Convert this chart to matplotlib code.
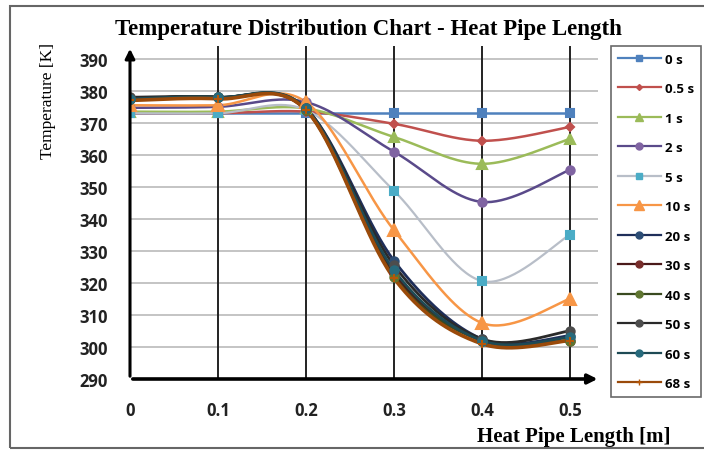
import numpy as np
import matplotlib.pyplot as plt
from matplotlib.lines import Line2D
from matplotlib.patches import Rectangle

# heat pipe positions [m]
length = [0, 0.1, 0.2, 0.3, 0.4, 0.5]

times = ["0 s", "0.5 s", "1 s", "2 s", "5 s", "10 s",
         "20 s", "30 s", "40 s", "50 s", "60 s", "68 s"]

t_0 = [373, 373, 373, 373, 373, 373]
t_05 = [373, 373, 373.5, 369.7, 364.4, 368.7]
t_1 = [373.5, 373.5, 374.5, 365.6, 357.2, 365]
t_2 = [374.7, 375, 376.5, 361, 345.3, 355.3]
t_5 = [373, 373, 374, 348.8, 320.6, 335]
t_10 = [375.5, 375.5, 376.5, 336.5, 307.5, 315]
t_20 = [377.5, 378, 374.5, 327, 302.5, 303.5]
t_30 = [377.5, 378, 374, 323, 302, 302]
t_40 = [377.5, 378, 374, 322, 302, 302]
t_50 = [378, 378, 374.5, 325.5, 302.5, 305]
t_60 = [377.5, 378, 374.5, 324, 302, 303]
t_68 = [377, 377.5, 374, 321.5, 301, 302]

series = [t_0, t_05, t_1, t_2, t_5, t_10, t_20, t_30, t_40, t_50, t_60, t_68]

line_colors = ["#4F81BD", "#C0504D", "#9BBB59", "#5A4A8A", "#B8BEC8", "#F79646",
               "#1F2F5A", "#4A1A1A", "#3A4A20", "#2A2A2A", "#1E4A55", "#9A4A0A"]
marker_colors = ["#4F81BD", "#C0504D", "#9BBB59", "#8064A2", "#4BACC6", "#F79646",
                 "#2C4D75", "#772C2A", "#5F7530", "#4D4D4D", "#276A7C", "#B65708"]
markers = ["s", "D", "^", "o", "s", "^", "o", "o", "o", "o", "o", "+"]
msizes = [6, 4, 7, 6, 6, 8, 6, 6, 6, 6, 6, 6]
lwidths = [1.8, 1.8, 1.8, 1.8, 1.6, 1.8, 2.0, 2.0, 2.0, 2.0, 2.0, 2.6]


def smooth(xs, ys, n=40):
    # excel style smoothed line (bezier through points)
    xs = np.asarray(xs, float)
    ys = np.asarray(ys, float)
    px, py = [], []
    for i in range(len(xs) - 1):
        x0, y0 = (xs[i - 1], ys[i - 1]) if i > 0 else (xs[i], ys[i])
        x3, y3 = (xs[i + 2], ys[i + 2]) if i + 2 < len(xs) else (xs[i + 1], ys[i + 1])
        c1x = xs[i] + (xs[i + 1] - x0) / 6
        c1y = ys[i] + (ys[i + 1] - y0) / 6
        c2x = xs[i + 1] - (x3 - xs[i]) / 6
        c2y = ys[i + 1] - (y3 - ys[i]) / 6
        t = np.linspace(0, 1, n)
        bx = (1 - t) ** 3 * xs[i] + 3 * (1 - t) ** 2 * t * c1x + 3 * (1 - t) * t ** 2 * c2x + t ** 3 * xs[i + 1]
        by = (1 - t) ** 3 * ys[i] + 3 * (1 - t) ** 2 * t * c1y + 3 * (1 - t) * t ** 2 * c2y + t ** 3 * ys[i + 1]
        px.extend(bx)
        py.extend(by)
    return px, py


fig = plt.figure(figsize=(7.04, 4.52), dpi=100)
ax = fig.add_axes([130 / 704, 72 / 452, 468 / 704, 333 / 452])

for y in range(300, 400, 10):
    ax.plot([0, 0.532], [y, y], color="#BFBFBF", lw=1.3, zorder=1)
for x in length[1:]:
    ax.plot([x, x], [290, 394], color="#222222", lw=1.4, zorder=1)

for i, vals in enumerate(series):
    sx, sy = smooth(length, vals)
    ax.plot(sx, sy, color=line_colors[i], lw=lwidths[i], zorder=2 + i * 0.1)
    ax.plot(length, vals, linestyle="none", marker=markers[i], ms=msizes[i],
            color=marker_colors[i], mec=marker_colors[i], mew=1.5, zorder=3 + i * 0.1)

ax.set_xlim(0, 0.532)
ax.set_ylim(290, 394)
for s in ax.spines.values():
    s.set_visible(False)
ax.set_xticks(length)
ax.set_xticklabels(["0", "0.1", "0.2", "0.3", "0.4", "0.5"])
ax.set_yticks(range(290, 400, 10))
ax.tick_params(length=0, labelsize=12)
ax.tick_params(axis="x", pad=16)
ax.tick_params(axis="y", pad=16)
for lab in ax.get_xticklabels() + ax.get_yticklabels():
    lab.set_fontweight("bold")
    lab.set_fontfamily("Open Sans")
    lab.set_color("#222222")

# axis arrows
ax.annotate("", xy=(0, 1.0), xytext=(0, 0), xycoords="axes fraction",
            arrowprops=dict(arrowstyle="-|>", color="black", lw=2.2, mutation_scale=14),
            annotation_clip=False, zorder=6)
ax.annotate("", xy=(1.005, 0), xytext=(0, 0), xycoords="axes fraction",
            arrowprops=dict(arrowstyle="-|>", color="black", lw=2.6, mutation_scale=14),
            annotation_clip=False, zorder=6)

fig.text(0.523, 0.934, "Temperature Distribution Chart - Heat Pipe Length",
         ha="center", va="center", fontsize=16.5, fontweight="bold",
         family="Liberation Serif")
fig.text(0.068, 0.905, "Temperature [K]", rotation=90, ha="center", va="top",
         fontsize=12.5, family="Liberation Serif")
fig.text(0.952, 0.033, "Heat Pipe Length [m]", ha="right", va="center",
         fontsize=15, fontweight="bold", family="Liberation Serif")

# outer chart border
fig.patches.append(Rectangle((10 / 704, 3 / 452), 700 / 704, 442 / 452,
                             transform=fig.transFigure, fill=False,
                             edgecolor="#666666", lw=1.5))

handles = [Line2D([], [], color=line_colors[i], lw=1.6, marker=markers[i], ms=msizes[i] - 1,
                  mfc=marker_colors[i], mec=marker_colors[i]) for i in range(len(times))]
leg = fig.legend(handles, times, loc="upper left", bbox_to_anchor=(611 / 704, 1 - 47 / 452),
                 frameon=True, fancybox=False, edgecolor="#444444", handlelength=3.3,
                 labelspacing=1.25, borderpad=0.5, handletextpad=0.3, borderaxespad=0,
                 prop={"family": "Open Sans", "weight": "bold", "size": 9.5})
leg.get_frame().set_linewidth(1.2)

fig.savefig("out.png", dpi=100)
